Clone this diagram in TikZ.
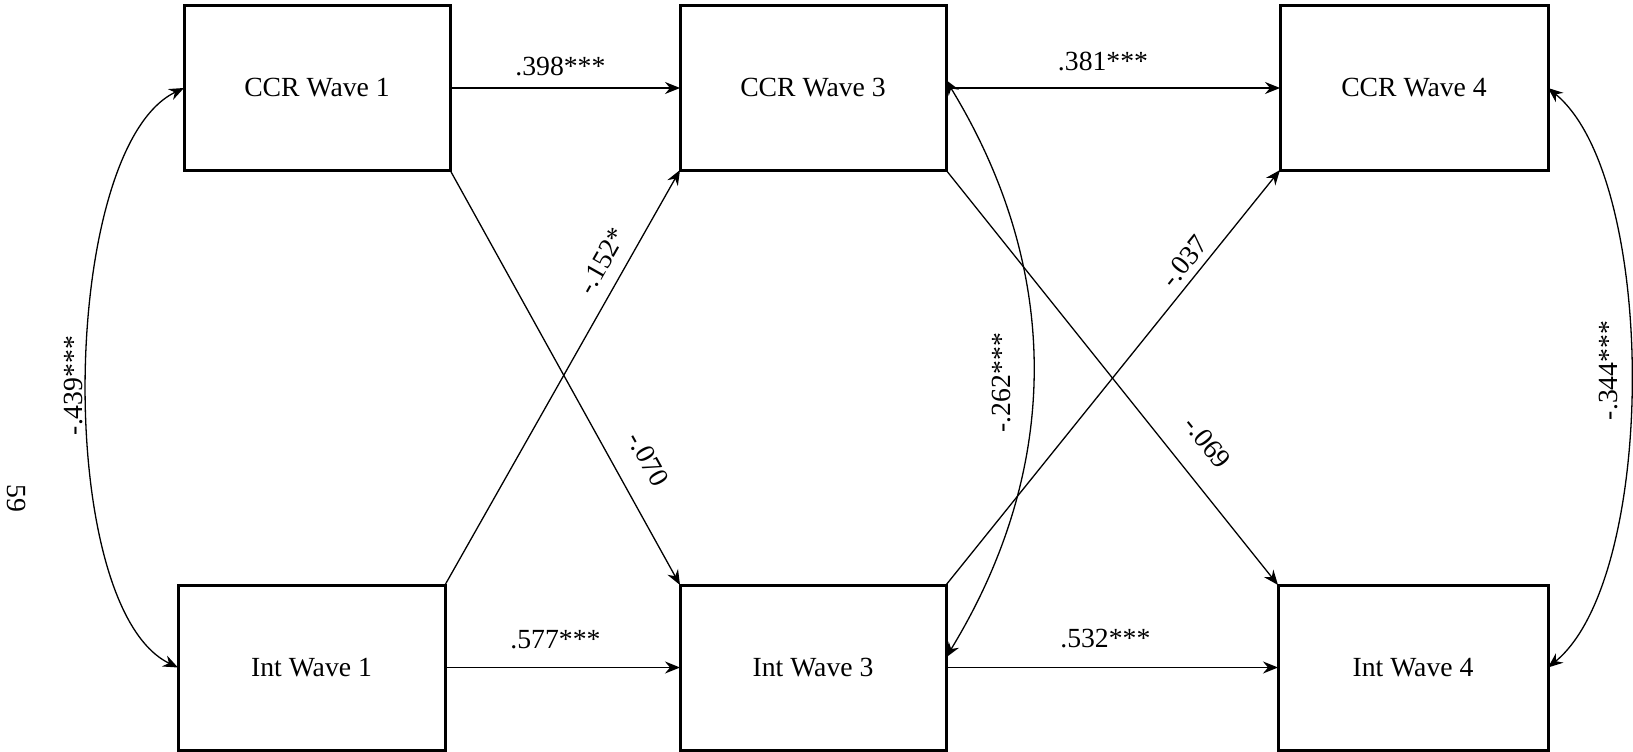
\documentclass[tikz,border=0pt]{standalone}
\usepackage{fontspec}
\setmainfont{Liberation Serif}
\usetikzlibrary{arrows.meta}
\begin{document}
\begin{tikzpicture}[x=1pt,y=-1pt,
  box/.style={draw, line width=3pt, minimum width=266pt, minimum height=164pt,
    inner sep=0pt, outer sep=0pt, font=\fontsize{27.7}{33}\selectfont},
  lbl/.style={inner sep=0pt, font=\fontsize{27.7}{33}\selectfont},
  tip/.tip={Stealth[length=15pt,width=12pt,inset=5pt]},
  conn/.style={line width=1.3pt, -tip},
  dconn/.style={line width=1.3pt, tip-tip}
]
\useasboundingbox (0,0) rectangle (1633,752);
\node[box] (c1) at (317,88) {CCR Wave 1};
\node[box] (c3) at (813,88) {CCR Wave 3};
\node[box, minimum width=268pt] (c4) at (1414,88) {CCR Wave 4};
\node[box, minimum height=165pt, minimum width=267pt] (i1) at (311.5,667.5) {Int Wave 1};
\node[box, minimum height=165pt] (i3) at (813,667.5) {Int Wave 3};
\node[box, minimum height=165pt, minimum width=270pt] (i4) at (1413,667.5) {Int Wave 4};

\draw[conn] (c1.east) -- node[lbl, pos=0.48, above=11pt] {.398***} (c3.west);
\draw[conn] (c3.east) -- node[lbl, pos=0.47, above=16pt] {.381***} (c4.west);
\draw[conn] (i1.east) -- node[lbl, pos=0.47, above=18pt] {.577***} (i3.west);
\draw[conn] (i3.east) -- node[lbl, pos=0.48, above=19pt] {.532***} (i4.west);

\draw[conn] (c1.south east) -- node[lbl, sloped, pos=0.736, above=23pt] {-.070} (i3.north west);
\draw[conn] (i1.north east) -- node[lbl, sloped, pos=0.754, above=13pt] {-.152*} (c3.south west);
\draw[conn] (c3.south east) -- node[lbl, sloped, pos=0.708, above=24pt] {-.069} (i4.north west);
\draw[conn] (i3.north east) -- node[lbl, sloped, pos=0.754, above=7pt] {-.037} (c4.south west);

\draw[dconn] (c1.west) .. controls +(-125,60) and +(-125,-60) ..
  node[lbl, pos=0.51, rotate=90, anchor=south, inner sep=3.5pt] {-.439***} (i1.west);
\draw[dconn] ([yshift=8pt]c3.east) .. controls +(116,190) and +(116,-190) ..
  node[lbl, pos=0.524, rotate=90, anchor=south, inner sep=21pt] {-.262***} ([yshift=10pt]i3.east);
\draw[dconn] (c4.east) .. controls +(110,90) and +(110,-90) ..
  node[lbl, pos=0.49, rotate=90, anchor=south, inner sep=12pt] {-.344***} (i4.east);

\node[lbl, rotate=-90] (pg) at (17,498) {59};
\end{tikzpicture}
\end{document}
